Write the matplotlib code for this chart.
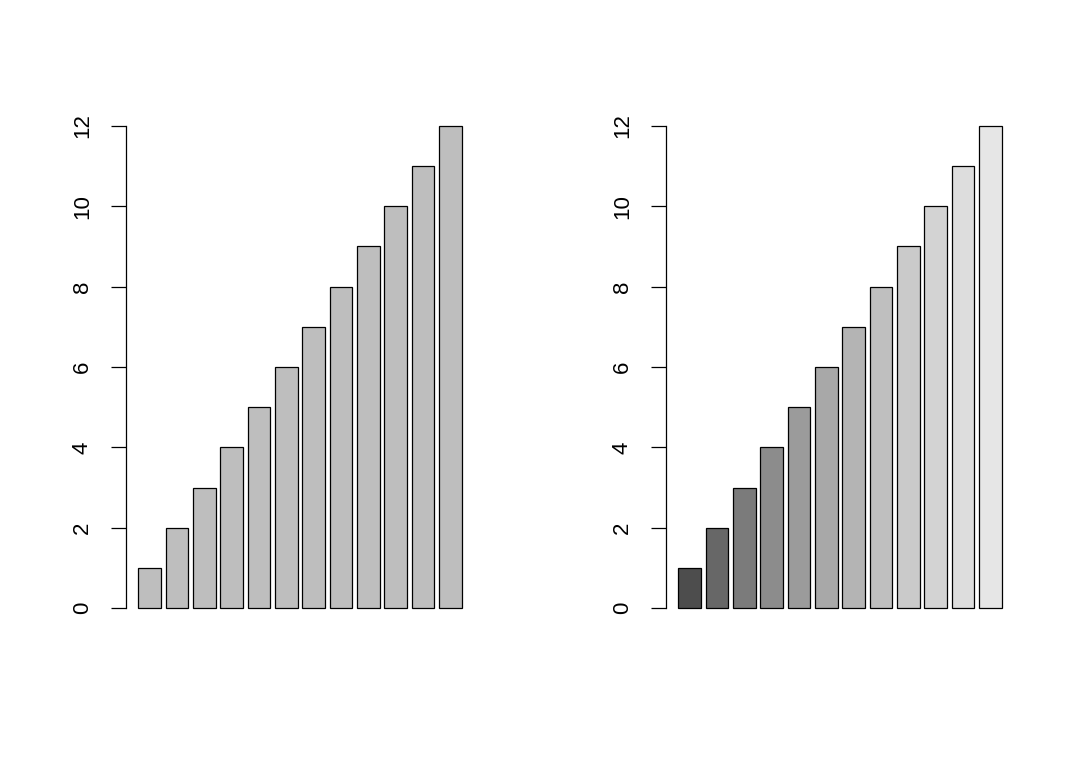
import numpy as np
import matplotlib.pyplot as plt

plt.rcParams["font.family"] = ["Liberation Sans", "DejaVu Sans"]

values = [1, 2, 3, 4, 5, 6, 7, 8, 9, 10, 11, 12]
yticks = [0, 2, 4, 6, 8, 10, 12]

# R barplot geometry: width 1, space 0.2
n = len(values)
lefts = 0.2 + 1.2 * np.arange(n)
centers = lefts + 0.5

# R gray.colors(12): start 0.3, end 0.9, gamma 2.2
g = np.linspace(0.3 ** 2.2, 0.9 ** 2.2, n) ** (1 / 2.2)
grad_colors = [(v, v, v) for v in g]

W, H = 1080, 771
fig = plt.figure(figsize=(W / 100, H / 100), dpi=100)

x0, x1 = 0.2 - 0.04 * 14.2, 14.4 + 0.04 * 14.2
y0, y1 = -0.48, 12.48


def panel(left_px, colors):
    bottom_px = 627.3
    top_px = 106.7
    ax = fig.add_axes([left_px / W, 1 - bottom_px / H, 349 / W, (bottom_px - top_px) / H])
    ax.bar(centers, values, width=1.0, color=colors, edgecolor="black", linewidth=0.9)
    ax.set_xlim(x0, x1)
    ax.set_ylim(y0, y1)
    for s in ("top", "right", "bottom"):
        ax.spines[s].set_visible(False)
    ax.spines["left"].set_bounds(0, 12)
    ax.spines["left"].set_linewidth(0.9)
    ax.set_xticks([])
    ax.set_yticks(yticks)
    ax.set_yticklabels([str(t) for t in yticks], rotation=90, va="center")
    ax.tick_params(axis="y", length=10.5, width=0.9, pad=13, labelsize=16)
    return ax


panel(125.5, "#BEBEBE")
panel(665.5, grad_colors)

fig.savefig("out.png", dpi=100, facecolor="white")
